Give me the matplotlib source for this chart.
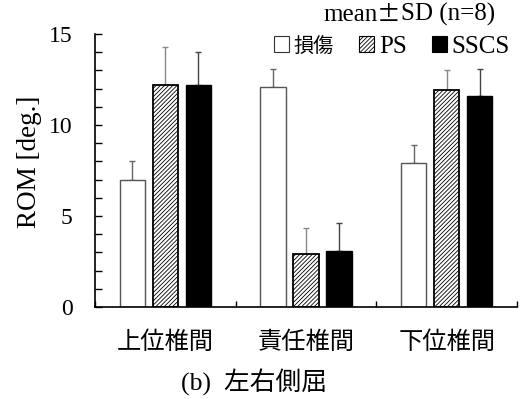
# -*- coding: utf-8 -*-
"""ROM (左右側屈) bar chart: 損傷 / PS / SSCS, mean ± SD"""
import matplotlib
matplotlib.use("Agg")
import matplotlib.pyplot as plt
from matplotlib.patches import Patch
import numpy as np

# ---------- data ----------
categories = ["上位椎間", "責任椎間", "下位椎間"]
series = ["損傷", "PS", "SSCS"]
injury_mean = [7.0, 12.1, 7.9]
injury_sd = [1.0, 1.0, 1.0]
ps_mean = [12.2, 2.9, 11.9]
ps_sd = [2.1, 1.45, 1.1]
sscs_mean = [12.2, 3.1, 11.6]
sscs_sd = [1.8, 1.5, 1.5]

# ---------- style ----------
SERIF = ["Liberation Serif", "Noto Sans CJK JP"]
CJK = ["Noto Sans CJK JP", "Liberation Serif"]
plt.rcParams["font.family"] = SERIF
plt.rcParams["hatch.linewidth"] = 0.6

fig = plt.figure(figsize=(5.2, 3.99), dpi=100)
ax = fig.add_axes([95 / 520, 1 - 307 / 399, 422 / 520, 273 / 399])

x = np.arange(len(categories)) + 0.5
w = 0.18
step = 0.234

styles = [
    dict(color="white", edgecolor="#555555", linewidth=1.0, hatch=None, ecolor="#666666"),
    dict(color="white", edgecolor="black", linewidth=1.3, hatch="////////", ecolor="#888888"),
    dict(color="black", edgecolor="black", linewidth=1.0, hatch=None, ecolor="#444444"),
]
means = [injury_mean, ps_mean, sscs_mean]
sds = [injury_sd, ps_sd, sscs_sd]

for i, (m, s, st) in enumerate(zip(means, sds, styles)):
    pos = x + (i - 1) * step
    ax.bar(pos, m, width=w, color=st["color"], edgecolor=st["edgecolor"],
           linewidth=st["linewidth"], hatch=st["hatch"], zorder=2)
    ax.errorbar(pos, m, yerr=[np.zeros(len(s)), s], fmt="none",
                ecolor=st["ecolor"], elinewidth=1.0, capsize=2.5,
                capthick=1.0, zorder=1)

# ---------- axes ----------
ax.set_xlim(0, 3)
ax.set_ylim(0, 15)
for side in ("top", "right"):
    ax.spines[side].set_visible(False)
ax.spines["left"].set_linewidth(1.2)
ax.spines["bottom"].set_linewidth(1.2)

ax.set_yticks([0, 5, 10, 15])
ax.set_yticks(range(16), minor=True)
ax.tick_params(axis="y", which="both", direction="in", length=5, width=1.0,
               labelsize=17, pad=16)

ax.set_xticks([0, 1, 2, 3])
ax.set_xticklabels([])
ax.set_xticks(x, minor=True)
ax.set_xticklabels(categories, minor=True, family=CJK)
ax.tick_params(axis="x", which="major", direction="in", length=4, width=1.0)
ax.tick_params(axis="x", which="minor", length=0, labelsize=17.5, pad=16)

ax.set_ylabel("ROM [deg.]", fontsize=19.5)
ax.yaxis.set_label_coords(-0.125, 0.53)

# ---------- legend ----------
handles = [Patch(facecolor=st["color"], edgecolor="black" if i else "#333333",
                 linewidth=0.8, hatch=st["hatch"]) for i, st in enumerate(styles)]
leg = fig.legend(handles, series, ncol=3, frameon=False, fontsize=18,
                 loc="center right", bbox_to_anchor=(510 / 520, 1 - 47 / 399),
                 handlelength=0.6, handleheight=0.6, handletextpad=0.2,
                 columnspacing=1.0, borderpad=0, borderaxespad=0)
leg.get_texts()[0].set_fontsize(14.5)
leg.get_texts()[0].set_family(CJK)

# "mean±SD (n=8)" with a wide ± like the original
t1 = fig.text(323 / 520, 1 - 26 / 399, "mean", fontsize=18, ha="left", va="bottom")
t2 = ax.annotate("±", xy=(1, 0), xycoords=t1, fontsize=17, family=CJK,
                 ha="left", va="bottom", annotation_clip=False)
ax.annotate("SD (n=8)", xy=(1, 0), xycoords=(t2, t1), fontsize=18,
            ha="left", va="bottom", annotation_clip=False)

fig.text(254 / 520, 1 - 382 / 399, "(b)  左右側屈", fontsize=18.5, family=SERIF,
         ha="center", va="center")

fig.savefig("out.png", dpi=100)
